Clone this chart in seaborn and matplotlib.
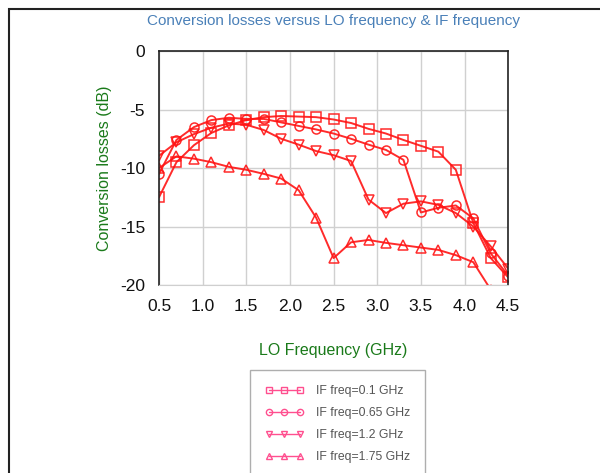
import numpy as np
import pandas as pd
import seaborn as sns
import matplotlib.pyplot as plt
from matplotlib.lines import Line2D
from matplotlib.patches import Rectangle
from matplotlib.ticker import MultipleLocator

# LO frequency points (GHz)
lo_freq = [0.5, 0.7, 0.9, 1.1, 1.3, 1.5, 1.7, 1.9, 2.1, 2.3, 2.5,
           2.7, 2.9, 3.1, 3.3, 3.5, 3.7, 3.9, 4.1, 4.3, 4.5]

# Conversion losses (dB) per IF frequency
loss_if_010 = [-12.5, -9.5, -8.05, -7.0, -6.35, -5.9, -5.65, -5.55, -5.6, -5.65, -5.85,
               -6.15, -6.65, -7.05, -7.6, -8.1, -8.6, -10.15, -14.7, -17.7, -19.35]
loss_if_065 = [-10.5, -7.6, -6.5, -5.9, -5.7, -5.8, -5.8, -6.1, -6.4, -6.7, -7.05,
               -7.5, -8.0, -8.45, -9.3, -13.8, -13.4, -13.2, -14.3, -17.3, -19.2]
loss_if_120 = [-8.95, -7.8, -7.1, -6.55, -6.2, -6.3, -6.75, -7.5, -8.0, -8.55, -8.9,
               -9.4, -12.7, -13.85, -13.05, -12.85, -13.15, -13.85, -15.0, -16.7, -18.6]
loss_if_175 = [-10.0, -9.0, -9.2, -9.5, -9.9, -10.15, -10.5, -10.9, -11.9, -14.25, -17.7,
               -16.35, -16.15, -16.4, -16.6, -16.8, -17.0, -17.45, -18.05, -20.4, -22.5]

series_labels = ["IF freq=0.1 GHz", "IF freq=0.65 GHz", "IF freq=1.2 GHz", "IF freq=1.75 GHz"]
series_values = [loss_if_010, loss_if_065, loss_if_120, loss_if_175]
series_markers = ["s", "o", "v", "^"]

sns.set_style("white")
plt.rcParams["font.family"] = ["Liberation Sans", "DejaVu Sans"]
plt.rcParams["axes.unicode_minus"] = False

line_red = "#ff1414"
legend_pink = "#ff4f8f"

fig = plt.figure(figsize=(6.0, 4.73), dpi=100)
ax = fig.add_axes([0.265, 0.3975, 0.582, 0.4945])

for label, values, mk in zip(series_labels, series_values, series_markers):
    df = pd.DataFrame({"freq": lo_freq, "loss": values})
    sns.lineplot(data=df, x="freq", y="loss", ax=ax, color=line_red, linewidth=1.4,
                 marker=mk, markersize=6.5, markerfacecolor="none",
                 markeredgecolor=line_red, markeredgewidth=1.1, alpha=0.9)

ax.set_xlim(0.5, 4.5)
ax.set_ylim(-20, 0)
ax.xaxis.set_major_locator(MultipleLocator(0.5))
ax.xaxis.set_minor_locator(MultipleLocator(0.1))
ax.yaxis.set_major_locator(MultipleLocator(5))
ax.yaxis.set_minor_locator(MultipleLocator(1))
ax.set_xticklabels([f"{v:.1f}" for v in ax.get_xticks()])
ax.set_yticklabels([f"{int(v)}" for v in ax.get_yticks()])
ax.tick_params(axis="both", which="major", direction="out", length=6, width=0.9,
               color="#333333", labelsize=12.5, labelcolor="#111111", pad=4)
ax.tick_params(axis="both", which="minor", direction="out", length=4, width=0.8,
               color="#333333")
ax.grid(True, which="major", color="#d0d0d0", linewidth=1.0)
for side in ["top", "right", "left"]:
    ax.spines[side].set_color("#222222")
    ax.spines[side].set_linewidth(1.2)
ax.spines["bottom"].set_color("#cfcfcf")
ax.set_xlabel("LO Frequency (GHz)", color="#1a7a1a", fontsize=11.5, labelpad=21)
ax.set_ylabel("Conversion losses (dB)", color="#1a7a1a", fontsize=11.5, labelpad=6)

fig.text(0.555, 0.955, "Conversion losses versus LO frequency & IF frequency",
         ha="center", va="center", color="#4a80b8", fontsize=11)

handles = [Line2D([0], [0], color=legend_pink, linewidth=1.0, marker=mk, markersize=4.5,
                  markerfacecolor="none", markeredgecolor=legend_pink)
           for mk in series_markers]
leg = fig.legend(handles, series_labels, loc="upper left", bbox_to_anchor=(0.417, 0.218),
                 borderaxespad=0.0, numpoints=3, handlelength=3.1, fontsize=8.8,
                 frameon=True, fancybox=False, edgecolor="#9a9a9a", labelspacing=0.82,
                 borderpad=1.25, handletextpad=1.0)
for t in leg.get_texts():
    t.set_color("#555555")
leg.get_frame().set_linewidth(1.0)

fig.patches.append(Rectangle((0.015, -0.1), 1.2, 1.081, transform=fig.transFigure,
                             fill=False, edgecolor="#222222", linewidth=1.5))

fig.savefig("out.png", dpi=100)
